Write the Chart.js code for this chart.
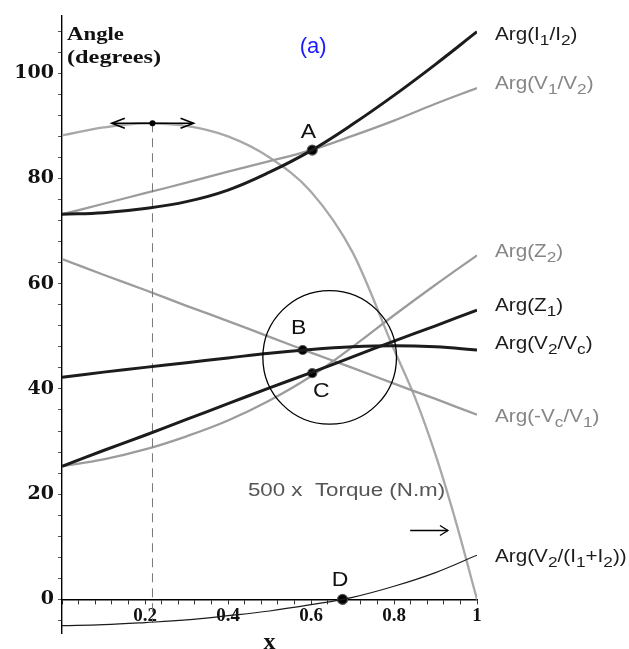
<!DOCTYPE html>
<html>
<head>
<meta charset="utf-8">
<script src="https://cdn.jsdelivr.net/npm/chart.js@4.4.1/dist/chart.umd.min.js"></script>
<style>
    html, body { margin: 0; padding: 0; background: #fff; }
    #wrap { width: 629px; height: 649px; position: relative; }
</style>
</head>
<body>
<div id="wrap"><canvas id="angleChart"></canvas></div>
<script>
const xValues = [0, 0.1, 0.2, 0.3, 0.4, 0.5, 0.6, 0.7, 0.8, 0.9, 1];

// angles in degrees
const argI1I2 = [73.2, 73.5, 74.3, 75.6, 77.8, 81.2, 85.3, 90.3, 95.8, 101.7, 107.9];
const argV1V2 = [73.2, 75.2, 77.2, 79.2, 81.3, 83.3, 85.4, 88.1, 91.0, 94.2, 97.2];
const argZ2 = [25.3, 26.6, 28.5, 31.0, 34.0, 37.8, 42.4, 48.0, 54.0, 59.8, 65.4];
const argZ1 = [25.3, 28.3, 31.2, 34.2, 37.2, 40.2, 43.1, 46.1, 49.1, 52.0, 55.0];
const argV2Vc = [42.2, 43.2, 44.1, 45.0, 45.9, 46.8, 47.5, 48.0, 48.2, 48.0, 47.4];
const argVcV1 = [64.7, 61.7, 58.8, 55.8, 52.9, 49.9, 46.9, 44.0, 41.0, 38.1, 35.1];
const argV2I12 = [-5.0, -4.8, -4.4, -3.9, -3.1, -2.2, -1.0, 0.4, 2.5, 5.1, 8.4];

// 500 x torque, sampled a bit denser near the end
const torqueX = [0, 0.1, 0.2, 0.3, 0.4, 0.5, 0.6, 0.7, 0.8, 0.85, 0.9, 0.95, 1];
const torqueY = [88.2, 89.7, 90.5, 90.0, 88.0, 84.0, 77.5, 66.0, 47.5, 38.5, 27.5, 14.5, 0];

// maximum torque marker
const maxArrowX = [0.12, 0.218, 0.317];
const maxArrowY = [90.5, 90.5, 90.5];
const maxDashX = [0.218, 0.218];
const maxDashY = [90.5, -4.4];

// marked points
const pointNames = ['A', 'B', 'C', 'D'];
const pointX = [0.603, 0.58, 0.603, 0.676];
const pointY = [85.4, 47.4, 43.0, 0];

// axis ticks
const xMajorTicks = [0.2, 0.4, 0.6, 0.8, 1];
const xTickLabels = ['0.2', '0.4', '0.6', '0.8', '1'];
const yMajorTicks = [0, 20, 40, 60, 80, 100];
const yTickLabels = ['0', '20', '40', '60', '80', '100'];

// curve names, _{..} is a subscript
const curveNames = [
    'Arg(I_{1}/I_{2})', 'Arg(V_{1}/V_{2})', 'Arg(Z_{2})', 'Arg(Z_{1})',
    'Arg(V_{2}/V_{c})', 'Arg(-V_{c}/V_{1})', 'Arg(V_{2}/(I_{1}+I_{2}))'
];

const DARK = '#1c1c1c';
const GREY = '#9c9c9c';
const LABEL_GREY = '#858585';

const toPoints = (xs, ys) => xs.map((x, i) => ({ x: x, y: ys[i] }));

function curve(data, color, width) {
    return {
        data: toPoints(xValues, data),
        borderColor: color,
        borderWidth: width,
        pointRadius: 0,
        fill: false,
        tension: 0.4
    };
}

// draw text with subscripts, slightly stretched like the original
function drawRich(ctx, text, x, y, size, color, stretch, family) {
    const parts = text.split(/(_\{[^}]*\})/).filter(s => s.length);
    ctx.save();
    ctx.translate(x, y);
    ctx.scale(stretch, 1);
    ctx.fillStyle = color;
    ctx.textBaseline = 'alphabetic';
    ctx.textAlign = 'left';
    let cx = 0;
    parts.forEach(p => {
        const sub = p.startsWith('_{');
        const t = sub ? p.slice(2, -1) : p;
        ctx.font = (sub ? size - 3 : size) + 'px ' + family;
        ctx.fillText(t, cx, sub ? 5 : 0);
        cx += ctx.measureText(t).width;
    });
    ctx.restore();
}

function arrowHead(ctx, x, y, dir, len, half) {
    ctx.beginPath();
    ctx.moveTo(x - dir * len, y - half);
    ctx.lineTo(x, y);
    ctx.lineTo(x - dir * len, y + half);
    ctx.stroke();
}

const annotations = {
    id: 'annotations',
    afterDatasetsDraw(chart) {
        const ctx = chart.ctx;
        const sx = chart.scales.x;
        const sy = chart.scales.y;
        const px = v => sx.getPixelForValue(v);
        const py = v => sy.getPixelForValue(v);
        const sans = '"Liberation Sans", Arial, sans-serif';
        const serif = '"Liberation Serif", "Times New Roman", serif';

        // circle round B and C
        const cx = px(0.645), cy = py(46.0);
        const r = px(0.645 + 0.161) - cx;
        ctx.save();
        ctx.strokeStyle = '#000';
        ctx.lineWidth = 1.3;
        ctx.beginPath();
        ctx.arc(cx, cy, r, 0, Math.PI * 2);
        ctx.stroke();

        // arrow heads of max torque marker
        ctx.lineWidth = 1.6;
        arrowHead(ctx, px(maxArrowX[0]), py(maxArrowY[0]), -1, 13, 5);
        arrowHead(ctx, px(maxArrowX[2]), py(maxArrowY[2]), 1, 13, 5);

        // torque arrow
        const ay = py(13.1);
        ctx.lineWidth = 1.3;
        ctx.beginPath();
        ctx.moveTo(px(0.839), ay);
        ctx.lineTo(px(0.930), ay);
        ctx.stroke();
        arrowHead(ctx, px(0.930), ay, 1, 8, 5);
        ctx.restore();

        // curve names at right
        const nameY = [106.4, 97.0, 65.1, 54.8, 47.6, 33.7, 7.2];
        const nameColor = [DARK, LABEL_GREY, LABEL_GREY, DARK, DARK, LABEL_GREY, DARK];
        curveNames.forEach((n, i) => {
            drawRich(ctx, n, chart.chartArea.right + 18, py(nameY[i]), 18, nameColor[i], 1.15, sans);
        });

        drawRich(ctx, '500 x  Torque (N.m)', px(0.448), py(19.7), 18, '#555', 1.24, sans);

        // point letters
        const letterX = [0.594, 0.570, 0.625, 0.670];
        const letterY = [88.9, 51.6, 39.7, 3.85];
        ctx.save();
        ctx.fillStyle = '#111';
        ctx.font = '20px ' + sans;
        ctx.textAlign = 'center';
        ctx.textBaseline = 'middle';
        pointNames.forEach((n, i) => {
            ctx.save();
            ctx.translate(px(letterX[i]), py(letterY[i]));
            ctx.scale(1.15, 1);
            ctx.fillText(n, 0, 1);
            ctx.restore();
        });
        ctx.restore();

        // panel tag and y axis title
        drawRich(ctx, '(a)', px(0.573), py(103.9), 22, '#1a1aff', 1.0, sans);
        drawRich(ctx, 'Angle', px(0.012), py(106.4), 20, '#111', 1.2, 'bold ' + serif);
        drawRich(ctx, '(degrees)', px(0.012), py(102.0), 17, '#111', 1.28, 'bold ' + serif);
    }
};

function minorTicks(from, to, step) {
    const out = [];
    for (let v = from; v <= to + 1e-9; v += step) {
        out.push({ value: Math.round(v * 1000) / 1000 });
    }
    return out;
}

function labelFor(value, majors, labels) {
    const i = majors.findIndex(m => Math.abs(m - value) < 1e-6);
    return i >= 0 ? labels[i] : '';
}

const ctx = document.getElementById('angleChart').getContext('2d');

new Chart(ctx, {
    type: 'line',
    data: {
        datasets: [
            Object.assign(curve(argI1I2, DARK, 3), { label: 'Arg(I1/I2)' }),
            Object.assign(curve(argZ1, DARK, 3), { label: 'Arg(Z1)' }),
            Object.assign(curve(argV2Vc, DARK, 3), { label: 'Arg(V2/Vc)' }),
            Object.assign(curve(argV2I12, DARK, 1.2), { label: 'Arg(V2/(I1+I2))' }),
            {
                label: 'points',
                data: toPoints(pointX, pointY),
                showLine: false,
                pointRadius: [5, 4.5, 4.5, 5],
                pointBackgroundColor: '#000',
                pointBorderColor: '#555',
                pointBorderWidth: 1.2
            },
            {
                label: 'max torque',
                data: toPoints(maxArrowX, maxArrowY),
                borderColor: '#000',
                borderWidth: 1.6,
                pointRadius: [0, 3, 0],
                pointBackgroundColor: '#000',
                pointBorderWidth: 0
            },
            {
                label: 'max torque x',
                data: toPoints(maxDashX, maxDashY),
                borderColor: '#777',
                borderWidth: 1,
                borderDash: [9, 6],
                pointRadius: 0
            },
            Object.assign(curve(argV1V2, GREY, 2.3), { label: 'Arg(V1/V2)' }),
            Object.assign(curve(argZ2, GREY, 2.3), { label: 'Arg(Z2)' }),
            Object.assign(curve(argVcV1, GREY, 2.3), { label: 'Arg(-Vc/V1)' }),
            {
                label: '500 x Torque',
                data: toPoints(torqueX, torqueY),
                borderColor: '#a8a8a8',
                borderWidth: 2.3,
                pointRadius: 0,
                cubicInterpolationMode: 'monotone'
            }
        ]
    },
    options: {
        responsive: true,
        maintainAspectRatio: false,
        animation: false,
        devicePixelRatio: 1,
        layout: { padding: { left: 0, right: 152, top: 9, bottom: 14 } },
        plugins: {
            legend: { display: false },
            tooltip: { enabled: false }
        },
        scales: {
            x: {
                type: 'linear',
                min: 0,
                max: 1,
                position: { y: 0 },
                afterBuildTicks: scale => { scale.ticks = minorTicks(0, 1, 0.04); },
                grid: { drawOnChartArea: false, drawTicks: true, tickLength: 4, color: '#333' },
                border: { display: true, color: '#000', width: 1.4 },
                ticks: {
                    autoSkip: false,
                    maxRotation: 0,
                    padding: 1,
                    color: '#111',
                    font: { family: '"Liberation Serif", serif', weight: 'bold', size: 19 },
                    callback: v => labelFor(v, xMajorTicks, xTickLabels)
                },
                title: {
                    display: true,
                    text: 'x',
                    color: '#111',
                    padding: 0,
                    font: { family: '"Liberation Serif", serif', weight: 'bold', size: 24 }
                }
            },
            y: {
                type: 'linear',
                min: -6.5,
                max: 111,
                afterFit: scale => { scale.width = 62; },
                afterBuildTicks: scale => { scale.ticks = minorTicks(-4, 108, 4); },
                grid: { drawOnChartArea: false, drawTicks: true, tickLength: 4, color: '#555' },
                border: { display: true, color: '#000', width: 1.4 },
                ticks: {
                    autoSkip: false,
                    padding: 4,
                    color: '#111',
                    font: { family: '"DejaVu Serif", serif', weight: 'bold', size: 19 },
                    callback: v => labelFor(v, yMajorTicks, yTickLabels)
                }
            }
        }
    },
    plugins: [annotations]
});
</script>
</body>
</html>
